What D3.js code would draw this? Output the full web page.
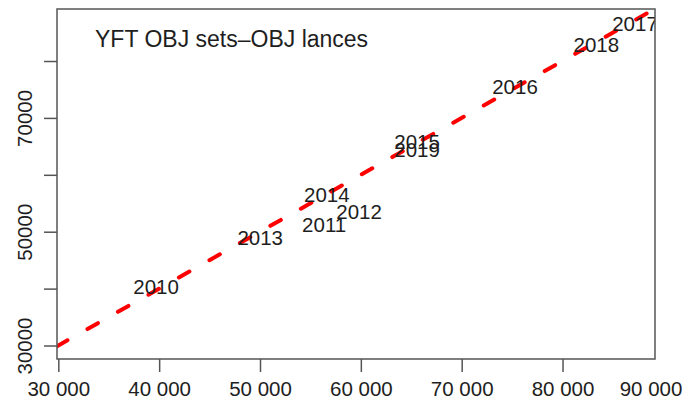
<!DOCTYPE html>
<html>
<head>
<meta charset="utf-8">
<script src="https://cdn.jsdelivr.net/npm/d3@7"></script>
<style>
  html, body { margin: 0; padding: 0; background: #fff; }
  svg { display: block; font-family: "Liberation Sans", Arial, sans-serif; }
</style>
</head>
<body>
<svg id="chart" width="689" height="400"></svg>
<script>
// ---- data ----
const years      = ["2010", "2011", "2012", "2013", "2014", "2015", "2016", "2017", "2018", "2019"];
const objSets    = [39700, 56360, 59830, 50020, 56630, 65580, 75290, 87190, 83350, 65580];
const objLances  = [40280, 51180, 53520, 48890, 56500, 65760, 75480, 86630, 82870, 64360];
const xTicks     = [30000, 40000, 50000, 60000, 70000, 80000];
const xExtraLabel = "90 000";
const yTicks     = [30000, 40000, 50000, 60000, 70000, 80000];
const yLabelled  = [30000, 50000, 70000];
const titleText  = "YFT OBJ sets\u2013OBJ lances";
const xDomain    = [29870, 89170];
const yDomain    = [27630, 89140];

// ---- layout ----
const svg = d3.select("#chart");
const plot = { left: 57, top: 9, right: 655, bottom: 359 };

const x = d3.scaleLinear().domain(xDomain).range([plot.left, plot.right]);
const y = d3.scaleLinear().domain(yDomain).range([plot.bottom, plot.top]);

const fmt = v => d3.format(",")(v).replace(/,/g, " ");
const textColor = "#1e1e1e";
const fontSize = 20.5;

svg.append("defs").append("clipPath").attr("id", "clip")
  .append("rect")
  .attr("x", plot.left).attr("y", plot.top)
  .attr("width", plot.right - plot.left).attr("height", plot.bottom - plot.top);

// x axis
const xAxis = svg.append("g")
  .attr("transform", `translate(0,${plot.bottom})`)
  .call(d3.axisBottom(x).tickValues(xTicks).tickSize(13).tickPadding(10).tickFormat(fmt));
xAxis.select(".domain").remove();
xAxis.selectAll(".tick line").attr("stroke", "#555").attr("stroke-width", 1.5);
xAxis.selectAll(".tick text")
  .attr("font-size", fontSize).attr("fill", textColor)
  .attr("font-family", "Liberation Sans, Arial, sans-serif")
  .attr("dy", null).attr("y", 37);

// extra "90 000" label at the right end (no tick in the original)
svg.append("text")
  .attr("x", x(xDomain[1]) - 4).attr("y", plot.bottom + 37)
  .attr("text-anchor", "middle")
  .attr("font-size", fontSize).attr("fill", textColor)
  .text(xExtraLabel);

// y axis
const yAxis = svg.append("g")
  .attr("transform", `translate(${plot.left},0)`)
  .call(d3.axisLeft(y).tickValues(yTicks).tickSize(13).tickFormat(d => yLabelled.includes(d) ? String(d) : ""));
yAxis.select(".domain").remove();
yAxis.selectAll(".tick line").attr("stroke", "#555").attr("stroke-width", 1.5);
yAxis.selectAll(".tick text")
  .attr("font-size", fontSize).attr("fill", textColor)
  .attr("font-family", "Liberation Sans, Arial, sans-serif")
  .attr("x", null).attr("dy", null)
  .attr("text-anchor", "middle")
  .attr("transform", `translate(${32 - plot.left},0) rotate(-90)`);

// 1:1 dashed line
const lo = Math.max(xDomain[0], yDomain[0]);
const hi = Math.min(xDomain[1], yDomain[1]);
svg.append("line")
  .attr("clip-path", "url(#clip)")
  .attr("x1", x(lo)).attr("y1", y(lo))
  .attr("x2", x(hi)).attr("y2", y(hi))
  .attr("stroke", "#ff0000").attr("stroke-width", 4)
  .attr("stroke-linecap", "round")
  .attr("stroke-dasharray", "12,23");

// year labels at points
svg.append("g").attr("clip-path", "url(#clip)")
  .selectAll("text").data(years).join("text")
  .attr("x", (d, i) => x(objSets[i]))
  .attr("y", (d, i) => y(objLances[i]))
  .attr("dy", "0.36em")
  .attr("text-anchor", "middle")
  .attr("font-size", fontSize).attr("fill", textColor)
  .text(d => d);

// plot box
svg.append("rect")
  .attr("x", plot.left).attr("y", plot.top)
  .attr("width", plot.right - plot.left).attr("height", plot.bottom - plot.top)
  .attr("fill", "none").attr("stroke", "#555").attr("stroke-width", 1.5);

// title
svg.append("text")
  .attr("x", 95).attr("y", 47)
  .attr("font-size", 23).attr("fill", textColor)
  .text(titleText);
</script>
</body>
</html>
